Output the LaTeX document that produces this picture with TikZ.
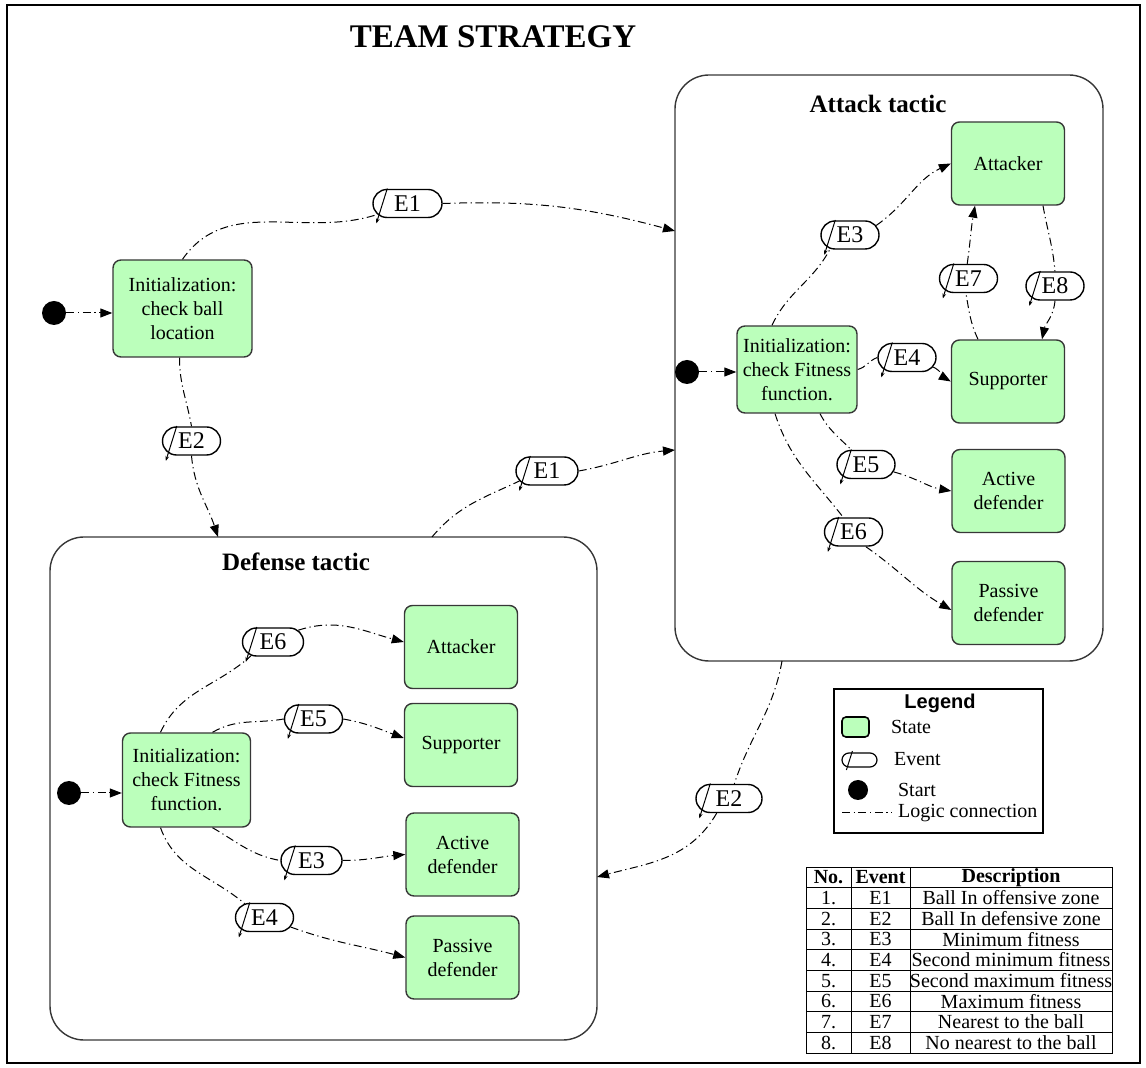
\documentclass[tikz,border=0pt]{standalone}
\usepackage{fontspec}
\setmainfont{Liberation Serif}
\newfontfamily\legendsans{Liberation Sans}
\usetikzlibrary{arrows.meta,calc,shapes.misc}

\definecolor{stategreen}{RGB}{187,255,187}
\definecolor{edgegray}{RGB}{55,55,55}

\begin{document}
\begin{tikzpicture}[x=0.5pt,y=-0.5pt,
  state/.style={draw=edgegray, line width=0.7pt, fill=stategreen, rounded corners=4pt,
    align=center, inner sep=1pt, font=\fontsize{10}{12}\selectfont,
    minimum width=56.5pt, minimum height=41.5pt},
  group/.style={draw=edgegray, line width=0.7pt, rounded corners=17pt, inner sep=0pt},
  grouptitle/.style={font=\bfseries\fontsize{12.5}{15}\selectfont},
  evt/.style={rounded rectangle, draw=black, line width=0.7pt, fill=white,
    minimum width=29pt, minimum height=14pt, inner sep=0pt,
    font=\fontsize{12}{12}\selectfont},
  slash/.style={line width=0.5pt, -{Stealth[length=2.5pt,width=1.8pt]}},
  startdot/.style={circle, fill=black, inner sep=0pt, minimum size=12pt},
  logic/.style={line width=0.5pt, dash pattern=on 4pt off 1.8pt on 0.6pt off 1.8pt},
  flow/.style={logic, -{Triangle[length=6pt,width=4.5pt]}},
  legtext/.style={anchor=west, font=\fontsize{10}{12}\selectfont},
  cell/.style={inner sep=0pt, font=\fontsize{10}{10}\selectfont},
  headcell/.style={cell, font=\bfseries\fontsize{10}{10}\selectfont},
]
\useasboundingbox (0,0) rectangle (1146,1068);

% outer frame and title
\draw[line width=1pt] (7,5) rectangle (1140,1063);
\node[font=\bfseries\fontsize{16.5}{20}\selectfont] (title) at (493,37) {TEAM STRATEGY};

% composite states
\node[group, minimum width=214pt, minimum height=293pt] (attack) at (889,368) {};
\node[group, minimum width=273.5pt, minimum height=251.5pt] (defense) at (323.5,788.5) {};
\node[grouptitle] (atitle) at (878,104) {Attack tactic};
\node[grouptitle] (dtitle) at (296,562) {Defense tactic};

% top level
\node[startdot] (s0) at (54,313) {};
\node[state, minimum width=69.5pt, minimum height=48.5pt] (init0) at (182.5,308.5)
  {Initialization:\\check ball\\location};

% attack tactic
\node[state] (aAtt) at (1008,163.5) {Attacker};
\node[state] (aSup) at (1008,381.5) {Supporter};
\node[state] (aAct) at (1008.5,491) {Active\\defender};
\node[state] (aPas) at (1008.5,603) {Passive\\defender};
\node[state, minimum width=60pt, minimum height=43.5pt] (aInit) at (797,369.5)
  {Initialization:\\check Fitness\\function.};
\node[startdot] (aStart) at (687,372) {};

% defense tactic
\node[state] (dAtt) at (461,647) {Attacker};
\node[state] (dSup) at (461,745) {Supporter};
\node[state] (dAct) at (462.5,854.5) {Active\\defender};
\node[state] (dPas) at (462.5,957.5) {Passive\\defender};
\node[state, minimum width=64pt, minimum height=47pt] (dInit) at (186.5,780)
  {Initialization:\\check Fitness\\function.};
\node[startdot] (dStart) at (69,793) {};

% events
\node[evt, minimum width=34.5pt] (e1a) at (407.5,203.5) {E1};
\node[evt] (e2a) at (191.5,441) {E2};
\node[evt, minimum width=31pt] (e1b) at (547,471) {E1};
\node[evt, minimum width=33pt] (e2b) at (729,798.5) {E2};
\node[evt] (e3A) at (850,235) {E3};
\node[evt] (e4A) at (907,357.5) {E4};
\node[evt] (e5A) at (866,464.5) {E5};
\node[evt] (e6A) at (853.5,532) {E6};
\node[evt] (e7A) at (968.5,278.5) {E7};
\node[evt] (e8A) at (1055,286) {E8};
\node[evt, minimum width=30.5pt] (e6D) at (273,642) {E6};
\node[evt] (e5D) at (313.5,719) {E5};
\node[evt, minimum width=30.5pt] (e3D) at (311.5,860.5) {E3};
\node[evt] (e4D) at (264.5,917.5) {E4};
\foreach \ev in {e1a,e2a,e1b,e2b,e3A,e4A,e5A,e6A,e7A,e8A,e6D,e5D,e3D,e4D}
  \draw[slash] ($(\ev.west)+(7.5pt,7.5pt)$) -- ($(\ev.west)+(2pt,-10pt)$);

% connection points on the composite borders
\coordinate (attIn1) at (675,231);
\coordinate (attIn2) at (675,450);
\coordinate (attOut1) at (782,661);
\coordinate (defIn1) at (218,537);
\coordinate (defOut1) at (432,537);
\coordinate (defIn2) at (597,877);

% top level transitions
\draw[flow] (s0) -- (s0 -| init0.west);
\draw[logic] (init0.north) to[out=55,in=198] (e1a.200);
\draw[flow] (e1a.east) to[out=2,in=165] (attIn1);
\draw[logic] ($(init0.south)+(-1.5pt,0)$) to[out=-90,in=100] (e2a.north);
\draw[flow] (e2a.south) to[out=-85,in=108] (defIn1);
\draw[logic] (defOut1) to[out=50,in=205] (e1b.200);
\draw[flow] (e1b.east) to[out=10,in=185] (attIn2);
\draw[logic] (attOut1) to[out=-100,in=72] (e2b.70);
\draw[flow] (e2b.230) to[out=-120,in=15] (defIn2);

% attack tactic transitions
\draw[flow] (aStart) -- (aStart -| aInit.west);
\draw[logic] ($(aInit.north)+(-12.5pt,0)$) to[out=65,in=242] (e3A.215);
\draw[flow] (e3A.20) to[out=35,in=205] (aAtt.west);
\draw[logic] (aInit.east) to[out=15,in=200] (e4A.west);
\draw[flow] (e4A.-20) to[out=-25,in=150] (aSup.west);
\draw[logic] ($(aInit.south)+(11.5pt,0)$) to[out=-62,in=135] (e5A.135);
\draw[flow] (e5A.-15) to[out=-15,in=170] (aAct.west);
\draw[logic] ($(aInit.south)+(-11pt,0)$) to[out=-72,in=128] (e6A.125);
\draw[flow] (e6A.-50) to[out=-35,in=150] ($(aPas.west)+(0,-3.5pt)$);
\draw[logic] ($(aSup.north)+(-15pt,0)$) to[out=115,in=-80] (e7A.-100);
\draw[flow] (e7A.95) to[out=82,in=-100] ($(aAtt.south)+(-16.5pt,0)$);
\draw[logic] ($(aAtt.south)+(17.5pt,0)$) to[out=-80,in=95] (e8A.north);
\draw[flow] (e8A.south) to[out=-95,in=78] ($(aSup.north)+(17pt,0)$);

% defense tactic transitions
\draw[flow] (dStart) -- (dStart -| dInit.west);
\draw[logic] ($(dInit.north)+(-13pt,0)$) to[out=65,in=222] (e6D.212);
\draw[flow] (e6D.25) to[out=18,in=165] ($(dAtt.west)+(0,2.5pt)$);
\draw[logic] ($(dInit.north)+(13pt,0)$) to[out=30,in=190] (e5D.west);
\draw[flow] (e5D.east) to[out=-10,in=160] ($(dSup.west)+(0,3.5pt)$);
\draw[logic] ($(dInit.south)+(13pt,0)$) to[out=-30,in=170] (e3D.west);
\draw[flow] (e3D.east) to[out=0,in=185] (dAct.west);
\draw[logic] ($(dInit.south)+(-13pt,0)$) to[out=-70,in=140] (e4D.145);
\draw[flow] (e4D.-20) to[out=-20,in=165] (dPas.west);

% legend
\node[draw, line width=0.6pt, minimum width=104.5pt, minimum height=72pt, inner sep=0pt]
  (legend) at (938.5,761) {};
\node[font=\legendsans\bfseries\fontsize{10}{12}\selectfont] (legtitle) at (940,703) {Legend};
\node[draw=black, line width=0.8pt, fill=stategreen, rounded corners=2pt,
  minimum width=13.5pt, minimum height=10pt, inner sep=0pt] (legState) at (855.5,727) {};
\node[legtext] (legStateT) at (884,727) {State};
\node[rounded rectangle, draw=black, line width=0.6pt, minimum width=17.5pt,
  minimum height=7pt, inner sep=0pt] (legEvt) at (859.5,760) {};
\draw[line width=0.5pt] ($(legEvt.west)+(5.5pt,4.5pt)$) -- ($(legEvt.west)+(2.5pt,-5pt)$);
\node[legtext] (legEvtT) at (887,759) {Event};
\node[startdot, minimum size=10pt] (legStart) at (858,790) {};
\node[legtext] (legStartT) at (891,790) {Start};
\coordinate (legL1) at (842,813);
\coordinate (legL2) at (892,813);
\draw[logic] (legL1) -- (legL2);
\node[legtext] (legLogicT) at (891,813) {Logic connection};

% event table
\draw[line width=0.5pt] (806,867) rectangle (1112,1053);
\draw[line width=0.5pt] (851,867) -- (851,1053) (910,867) -- (910,1053);
\foreach \k in {1,...,8}
  \draw[line width=0.5pt] (806,{867+\k*20.667}) -- (1112,{867+\k*20.667});
\node[headcell] (hNo) at (828.5,{867+0.5*20.667}) {No.};
\node[headcell] (hEv) at (880.5,{867+0.5*20.667}) {Event};
\node[headcell] (hDs) at (1011,{867+0.5*20.667}) {Description};
\foreach \no/\ev/\ds [count=\i] in {1./E1/Ball In offensive zone,
    2./E2/Ball In defensive zone, 3./E3/Minimum fitness,
    4./E4/Second minimum fitness, 5./E5/Second maximum fitness,
    6./E6/Maximum fitness, 7./E7/Nearest to the ball, 8./E8/No nearest to the ball} {
  \node[cell] (no\i) at (828.5,{867+(\i+0.5)*20.667}) {\no};
  \node[cell] (ev\i) at (880.5,{867+(\i+0.5)*20.667}) {\ev};
  \node[cell] (ds\i) at (1011,{867+(\i+0.5)*20.667}) {\ds};
}
\end{tikzpicture}
\end{document}
